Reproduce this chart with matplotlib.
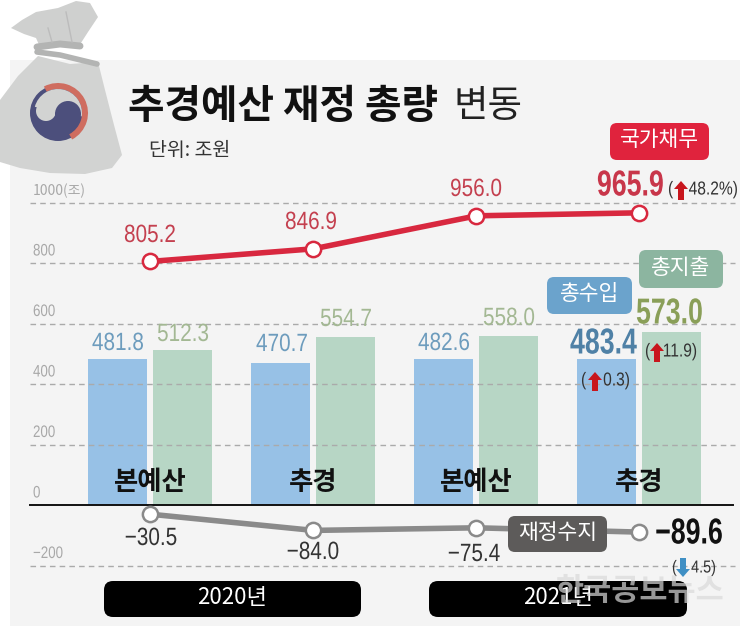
"""추경예산 재정 총량 변동 chart."""

import matplotlib.patheffects as pe
import matplotlib.pyplot as plt
import numpy as np
from matplotlib.patches import Circle, FancyBboxPatch, Polygon, Wedge
from matplotlib.transforms import Affine2D

W, H = 740, 626

# %% Data
periods = ["본예산", "추경", "본예산", "추경"]
years = ["2020년", "2021년"]
revenue = [481.8, 470.7, 482.6, 483.4]
spending = [512.3, 554.7, 558.0, 573.0]
debt = [805.2, 846.9, 956.0, 965.9]
balance = [-30.5, -84.0, -75.4, -89.6]
y_ticks = [1000, 800, 600, 400, 200, 0, -200]
y_tick_labels = ["1000(조)", "800", "600", "400", "200", "0", "−200"]

blue = "#97c1e6"
green = "#b7d6c5"
red = "#d8283f"
grey_line = "#8a8a8a"
panel = "#f4f4f4"
bag = "#d2d3d2"
navy = "#4c4f7c"

KR = ["Noto Sans CJK KR", "DejaVu Sans"]
LATIN = ["Liberation Sans", "DejaVu Sans"]

PX_PER_UNIT = 0.3025
ZERO_PX = 505
X0_PX = 150.5
STEP_PX = 163

fig = plt.figure(figsize=(W / 100, H / 100), dpi=100, facecolor="white")

# Pixel layer for decoration, data layer above it for marks
bg = fig.add_axes([0, 0, 1, 1], zorder=0)
ax = fig.add_axes([0, 0, 1, 1], zorder=1)
top = fig.add_axes([0, 0, 1, 1], zorder=2)
for a in (bg, top):
    a.set_xlim(0, W)
    a.set_ylim(H, 0)
    a.axis("off")
    a.patch.set_alpha(0)
ax.set_xlim(-X0_PX / STEP_PX, (W - X0_PX) / STEP_PX)
ax.set_ylim((ZERO_PX - H) / PX_PER_UNIT, ZERO_PX / PX_PER_UNIT)
ax.axis("off")
ax.patch.set_alpha(0)


class Squeeze(pe.AbstractPathEffect):
    """Narrow the glyphs around an anchor x, there is no condensed font here."""

    def __init__(self, anchor, factor):
        super().__init__()
        self.anchor = anchor
        self.factor = factor

    def draw_path(self, renderer, gc, tpath, affine, rgbFace=None):
        squeeze = Affine2D().translate(-self.anchor, 0).scale(self.factor, 1).translate(self.anchor, 0)
        renderer.draw_path(gc, tpath, affine + squeeze, rgbFace)


def narrow_text(axes, px, py, text, size, color, factor=0.83, ha="center", weight="normal"):
    """Number label in squeezed Liberation Sans."""
    t = axes.text(px, py, text, family=LATIN, fontsize=size, color=color, ha=ha, va="center", fontweight=weight)
    t.set_path_effects([Squeeze(px, factor)])
    return t


# %% Panel and money bag
bg.add_patch(plt.Rectangle((10, 60), W - 10, H - 60, color=panel, lw=0))

bag_body = [(38, 56), (70, 64), (98, 62), (105, 90), (114, 125), (122, 155),
            (112, 168), (85, 174), (50, 173), (20, 168), (0, 162), (0, 100), (18, 76)]
bag_top = [(40, 47), (36, 38), (24, 34), (11, 28), (22, 20), (36, 12), (58, 8),
           (76, 1), (90, 3), (98, 17), (88, 32), (79, 46)]
bg.add_patch(Polygon(bag_body, closed=True, color=bag, lw=0))
bg.add_patch(Polygon(bag_top, closed=True, color="#cfd0cf", lw=0))
bg.plot([37, 60, 80], [47, 44, 46], color="#b3b4b3", lw=5, solid_capstyle="round")
bg.plot([37, 60, 97], [52, 55, 64], color="#b3b4b3", lw=4, solid_capstyle="round")
bg.plot([48, 52], [28, 42], color="#bcbcbc", lw=1)
bg.plot([66, 72], [12, 42], color="#bcbcbc", lw=1)

# Taegeuk on the bag (y axis points down, so angles run clockwise on screen)
bg.add_patch(Circle((58, 113), 28, color=navy, lw=0))
bg.add_patch(Wedge((58, 113), 30, -118, 62, width=6, color="#cf6d60", lw=0))
bg.add_patch(Wedge((58, 113), 24, -165, 8, color=bag, lw=0))
bg.add_patch(Circle((46, 111), 10, color=bag, lw=0))
bg.add_patch(Circle((68, 114), 13, color=navy, lw=0))

# %% Title
bg.text(128, 106, "추경예산 재정 총량", family=KR, fontsize=28.6, fontweight="bold",
        color="#111111", va="center", ha="left")
bg.text(453, 106, "변동", family=KR, fontsize=27, color="#222222", va="center", ha="left")
bg.text(149, 150, "단위: 조원", family=KR, fontsize=14, color="#333333", va="center", ha="left")

# %% Grid and y ticks
for tick, tick_label in zip(y_ticks, y_tick_labels):
    tick_y = ZERO_PX - tick * PX_PER_UNIT
    if tick == 0:
        ax.plot([(30 - X0_PX) / STEP_PX, (733 - X0_PX) / STEP_PX], [0, 0], color="#111111", lw=1.4, zorder=4)
    else:
        ax.plot([(30 - X0_PX) / STEP_PX, (735 - X0_PX) / STEP_PX], [tick, tick],
                color="#aaaaaa", lw=1, ls=(0, (4, 3)), zorder=3)
    if tick == 1000:
        bg.text(33, tick_y - 12, tick_label, family=KR, fontsize=10, color="#a8a8a8", va="center", ha="left")
    else:
        narrow_text(bg, 33, tick_y - 12, tick_label, 12, "#a8a8a8", factor=0.8, ha="left")

# %% Bars
x = np.arange(len(periods))
bar_w = 59 / STEP_PX
offset = 32.5 / STEP_PX
ax.bar(x - offset, revenue, bar_w, color=blue, zorder=2)
ax.bar(x + offset, spending, bar_w, color=green, zorder=2)

# %% Lines
ax.plot(x, debt, color=red, lw=4, zorder=5, marker="o", ms=11, mfc="white", mec=red, mew=1.8)
ax.plot(x, balance, color=grey_line, lw=4, zorder=5, marker="o", ms=11, mfc="white", mec=grey_line, mew=1.8)

# %% Value labels
debt_pos = [(150, 235), (311, 222), (476, 189)]
for val, (px, py) in zip(debt[:3], debt_pos):
    narrow_text(top, px, py, f"{val:.1f}", 18, "#c4404f")
rev_pos = [(118, 343), (282, 344), (444, 343)]
for val, (px, py) in zip(revenue[:3], rev_pos):
    narrow_text(top, px, py, f"{val:.1f}", 18, "#6d9cbd")
spend_pos = [(183, 334), (346, 319), (509, 318)]
for val, (px, py) in zip(spending[:3], spend_pos):
    narrow_text(top, px, py, f"{val:.1f}", 18, "#a3b893")
bal_pos = [(151, 538), (313, 552), (474, 554)]
for val, (px, py) in zip(balance[:3], bal_pos):
    narrow_text(top, px, py, f"−{abs(val):.1f}", 18, "#333333")

narrow_text(top, 664, 186, f"{debt[3]:.1f}", 26, "#c8364a", factor=0.74, ha="right", weight="bold")
narrow_text(top, 637, 344, f"{revenue[3]:.1f}", 26, "#4f81a6", factor=0.74, ha="right", weight="bold")
narrow_text(top, 703, 314, f"{spending[3]:.1f}", 26, "#8a9f58", factor=0.74, ha="right", weight="bold")
narrow_text(top, 723, 534, f"−{abs(balance[3]):.1f}", 26, "#111111", factor=0.74, ha="right", weight="bold")


def change_note(paren_x, arrow_x, right_x, y, text, arrow_color="#c8161d", down=False, size=13.5):
    """Bracketed change note with a small block arrow."""
    narrow_text(top, paren_x, y, "(", size, "#333333", ha="left")
    sign = -1 if down else 1
    arrow = [(arrow_x - 7, y - sign), (arrow_x, y - sign * 9), (arrow_x + 7, y - sign),
             (arrow_x + 3, y - sign), (arrow_x + 3, y + sign * 10), (arrow_x - 3, y + sign * 10),
             (arrow_x - 3, y - sign)]
    top.add_patch(Polygon(arrow, closed=True, color=arrow_color, lw=0))
    narrow_text(top, right_x, y, text + ")", size, "#333333", ha="right")


change_note(668, 681, 738, 190, "48.2%")
change_note(581, 595, 630, 381, "0.3")
change_note(645, 657, 697, 352, "11.9")
change_note(672, 683, 716, 568, "4.5", arrow_color="#3f8fc4", down=True, size=12.5)

# %% Category labels
for i, period in enumerate(periods):
    top.text(X0_PX + i * STEP_PX, 483, period, family=KR, fontsize=19, fontweight="bold",
             color="#111111", ha="center", va="center")


def tag(x0, y0, x1, y1, text, color, size=15.5, radius=7):
    """Rounded label box."""
    top.add_patch(FancyBboxPatch((x0 + radius, y0 + radius), x1 - x0 - 2 * radius, y1 - y0 - 2 * radius,
                                 boxstyle=f"round,pad={radius},rounding_size={radius}", fc=color, ec="none"))
    top.text((x0 + x1) / 2, (y0 + y1) / 2 - 1, text, family=KR, fontsize=size, color="white", ha="center", va="center")


tag(610, 123, 709, 160, "국가채무", "#e0233d")
tag(547, 277, 632, 314, "총수입", "#6ba3cc")
tag(639, 250, 723, 288, "총지출", "#8cb5a0")
tag(508, 516, 607, 552, "재정수지", "#5d5b5a")
tag(104, 581, 361, 617, years[0], "#000000", size=16, radius=9)
tag(429, 581, 687, 617, years[1], "#000000", size=16, radius=9)

# Watermark
top.text(640, 591, "한국공보뉴스", family=KR, fontsize=22, fontweight="bold", color="#d9d9d9",
         alpha=0.7, ha="center", va="center")

fig.savefig("out.png", dpi=100, facecolor="white")
